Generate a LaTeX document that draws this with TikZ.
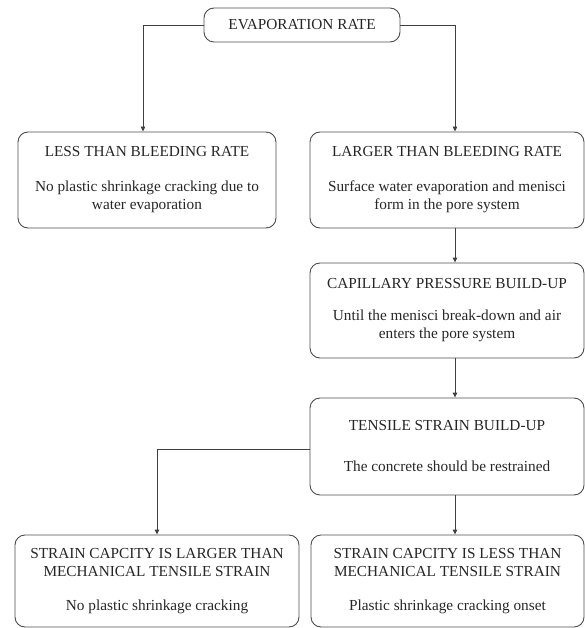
\documentclass[tikz,border=0pt]{standalone}
\usepackage{fontspec}
\setmainfont{Liberation Serif}
\usetikzlibrary{arrows.meta}
\begin{document}
\begin{tikzpicture}[x=1pt,y=-1pt,
  box/.style={draw=black!70, line width=0.9pt, rounded corners=10pt, align=center, inner sep=0pt,
    font=\fontsize{15.3}{18}\selectfont, text=black!85},
  link/.style={draw=black!75, line width=0.9pt, -{Triangle[length=5pt,width=4.5pt]}}]
\useasboundingbox (0,0) rectangle (585,628);
% top of the chart
\node[box, minimum width=196pt, minimum height=34pt] (evap) at (302,25) {EVAPORATION RATE};
\node[box, minimum width=258pt, minimum height=96pt] (less) at (147,180)
  {LESS THAN BLEEDING RATE\\[17pt] No plastic shrinkage cracking due to\\ water evaporation};
\node[box, minimum width=274pt, minimum height=96pt] (larger) at (447,180)
  {LARGER THAN BLEEDING RATE\\[17pt] Surface water evaporation and menisci\\ form in the pore system};
% middle column
\node[box, minimum width=274pt, minimum height=95pt] (capil) at (447,310.5)
  {CAPILLARY PRESSURE BUILD-UP\\[14pt] Until the menisci break-down and air\\ enters the pore system};
\node[box, minimum width=274pt, minimum height=97pt] (tensile) at (447,446.5)
  {TENSILE STRAIN BUILD-UP\\[23pt] The concrete should be restrained};
% bottom row
\node[box, minimum width=284pt, minimum height=92pt] (larcap) at (157,581)
  {STRAIN CAPCITY IS LARGER THAN\\ MECHANICAL TENSILE STRAIN\\[16pt] No plastic shrinkage cracking};
\node[box, minimum width=273pt, minimum height=92pt] (lescap) at (447.5,581)
  {STRAIN CAPCITY IS LESS THAN\\ MECHANICAL TENSILE STRAIN\\[16pt] Plastic shrinkage cracking onset};
% connectors
\draw[link] (evap.west) -| ([xshift=-4pt]less.north);
\draw[link] (evap.east) -| ([xshift=8pt]larger.north);
\draw[link] ([xshift=8pt]larger.south) -- ([xshift=8pt]capil.north);
\draw[link] ([xshift=8pt]capil.south) -- ([xshift=8pt]tensile.north);
\draw[link] ([yshift=-2.5pt]tensile.west) -| (larcap.north);
\draw[link] ([xshift=8pt]tensile.south) -- ([xshift=7.5pt]lescap.north);
\end{tikzpicture}
\end{document}
